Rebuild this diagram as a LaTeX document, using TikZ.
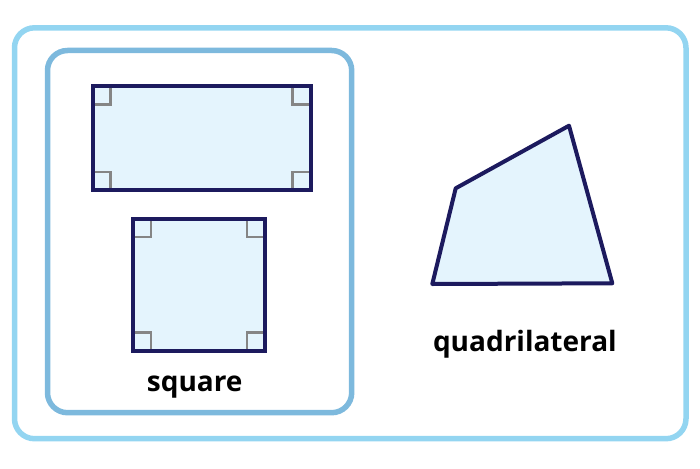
\documentclass[tikz,border=0pt]{standalone}
\usepackage{fontspec}
\setmainfont{Open Sans}
\usetikzlibrary{calc}
\definecolor{outerblue}{HTML}{93D5F1}
\definecolor{innerblue}{HTML}{7DB9DD}
\definecolor{navy}{HTML}{1C1A5E}
\definecolor{paleblue}{HTML}{E4F4FD}
\definecolor{markgray}{HTML}{858585}
\begin{document}
\begin{tikzpicture}[x=1pt,y=-1pt,
  frame/.style={line width=5.5pt,rounded corners=20pt},
  shapebox/.style={draw=navy,fill=paleblue,line width=4pt,rectangle,inner sep=0pt,outer sep=0pt},
  ramark/.style={draw=markgray,line width=2.2pt},
  lbl/.style={font=\bfseries\fontsize{28}{30}\selectfont,text=black,anchor=base,inner sep=0pt}]
\useasboundingbox (0,0) rectangle (700,468);
\draw[frame,draw=outerblue] (14.5,27.8) rectangle (686,438.7);
\draw[frame,draw=innerblue] (47.5,50.5) rectangle (351.7,412.7);
% rectangle
\node[shapebox,minimum width=218pt,minimum height=103.5pt] (rect) at (201.5,138.25) {};
% square
\node[shapebox,minimum width=132pt,minimum height=131.5pt] (sq) at (199,284.75) {};
% right-angle marks
\foreach \n in {rect,sq}{
  \draw[ramark] ($(\n.north west)+(2,18)$) -- ($(\n.north west)+(18,18)$) -- ($(\n.north west)+(18,2)$);
  \draw[ramark] ($(\n.north east)+(-2,18)$) -- ($(\n.north east)+(-18,18)$) -- ($(\n.north east)+(-18,2)$);
  \draw[ramark] ($(\n.south west)+(2,-18)$) -- ($(\n.south west)+(18,-18)$) -- ($(\n.south west)+(18,-2)$);
  \draw[ramark] ($(\n.south east)+(-2,-18)$) -- ($(\n.south east)+(-18,-18)$) -- ($(\n.south east)+(-18,-2)$);
}
% quadrilateral
\coordinate (qa) at (569,125.7);
\coordinate (qb) at (455.7,188.3);
\coordinate (qc) at (432.3,284);
\coordinate (qd) at (612.3,283.3);
\draw[draw=navy,fill=paleblue,line width=4pt,line join=round] (qa) -- (qb) -- (qc) -- (qd) -- cycle;
% labels
\node[lbl] (sqlbl) at (194.7,391.7) {square};
\node[lbl] (qlbl) at (524.9,351.7) {quadrilateral};
\end{tikzpicture}
\end{document}
